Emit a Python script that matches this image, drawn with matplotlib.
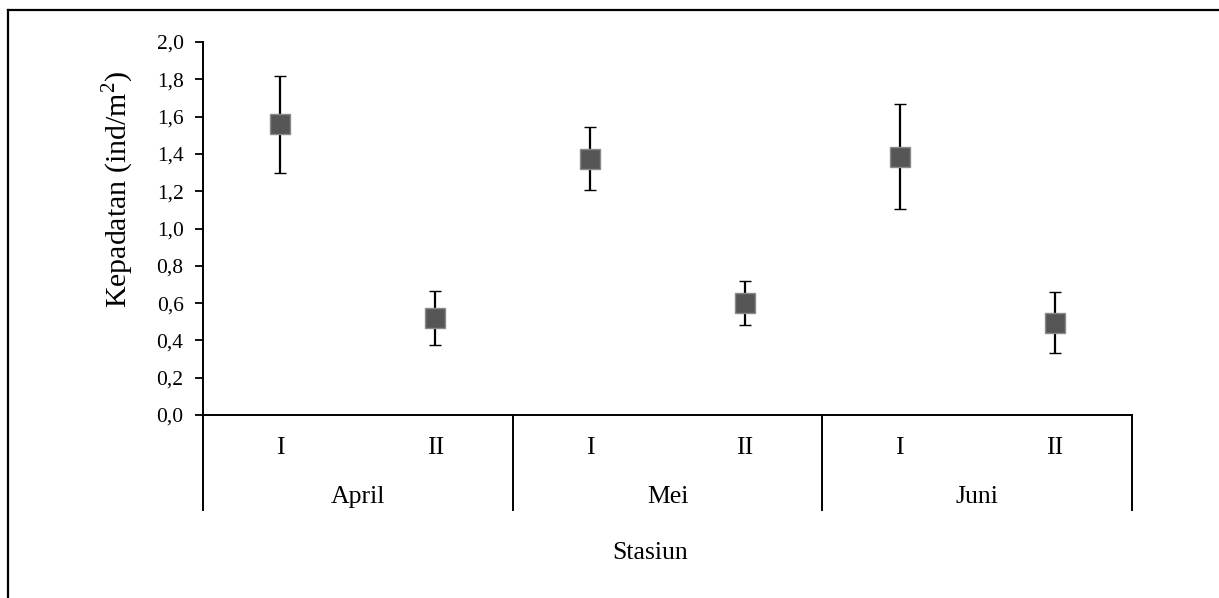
import matplotlib
matplotlib.use("Agg")
import matplotlib.pyplot as plt
from matplotlib.lines import Line2D
import numpy as np

plt.rcParams['font.family'] = ['Liberation Serif', 'DejaVu Serif']
plt.rcParams['mathtext.fontset'] = 'custom'
plt.rcParams['mathtext.rm'] = 'Liberation Serif'

months = ["April", "Mei", "Juni"]
stations = ["I", "II"]
means = [1.56, 0.52, 1.375, 0.60, 1.385, 0.495]
errors = [0.26, 0.145, 0.17, 0.12, 0.28, 0.163]
yticks = [0.0, 0.2, 0.4, 0.6, 0.8, 1.0, 1.2, 1.4, 1.6, 1.8, 2.0]

W, H = 1219, 598
fig = plt.figure(figsize=(W / 100, H / 100), dpi=100)
left, right, bot, top = 203, 1132, 415, 42
ax = fig.add_axes([left / W, 1 - bot / H, (right - left) / W, (bot - top) / H])

x = np.arange(len(means))
ax.errorbar(x, means, yerr=errors, fmt='s', ms=14, mfc='#555555', mec='#8a8a8a', mew=1,
            ecolor='black', elinewidth=1.6, capsize=4.5, capthick=1.6, zorder=3)

ax.set_xlim(-0.5, len(means) - 0.5)
ax.set_ylim(0, 2.0)
ax.set_yticks(yticks)
ax.set_yticklabels([f"{v:.1f}".replace('.', ',') for v in yticks], fontsize=15.5)
ax.tick_params(axis='y', direction='out', length=6, width=1.3, pad=8)
ax.set_xticks([])
for s in ['top', 'right']:
    ax.spines[s].set_visible(False)
ax.spines['left'].set_linewidth(1.4)
ax.spines['bottom'].set_linewidth(1.4)

# category axis lines below
ext = (bot - 510) / (bot - top)  # axes fraction below
trans = ax.get_xaxis_transform()
for xb in [-0.5, 1.5, 3.5, 5.5]:
    ax.add_line(Line2D([xb, xb], [0, ext], transform=trans, color='black', lw=1.4, clip_on=False))

y1 = (bot - 448) / (bot - top)
y2 = (bot - 497) / (bot - top)
for i in range(len(means)):
    ax.text(i, y1, stations[i % 2], transform=trans, ha='center', va='center', fontsize=18.5)
for j, m in enumerate(months):
    ax.text(2 * j + 0.5, y2, m, transform=trans, ha='center', va='center', fontsize=18.5)

fig.text(650 / W, 1 - 553 / H, "Stasiun", ha='center', va='center', fontsize=18.5)
fig.text(118 / W, 1 - 189 / H, "Kepadatan (ind/m$^2$)", rotation=90, ha='center', va='center', fontsize=21.5)

# outer frame (left and top visible)
fig.add_artist(Line2D([8 / W, 8 / W], [0, 1 - 10 / H], transform=fig.transFigure, color='black', lw=1.6))
fig.add_artist(Line2D([8 / W, 1], [1 - 10 / H, 1 - 10 / H], transform=fig.transFigure, color='black', lw=1.6))

fig.savefig("out.png", dpi=100)
